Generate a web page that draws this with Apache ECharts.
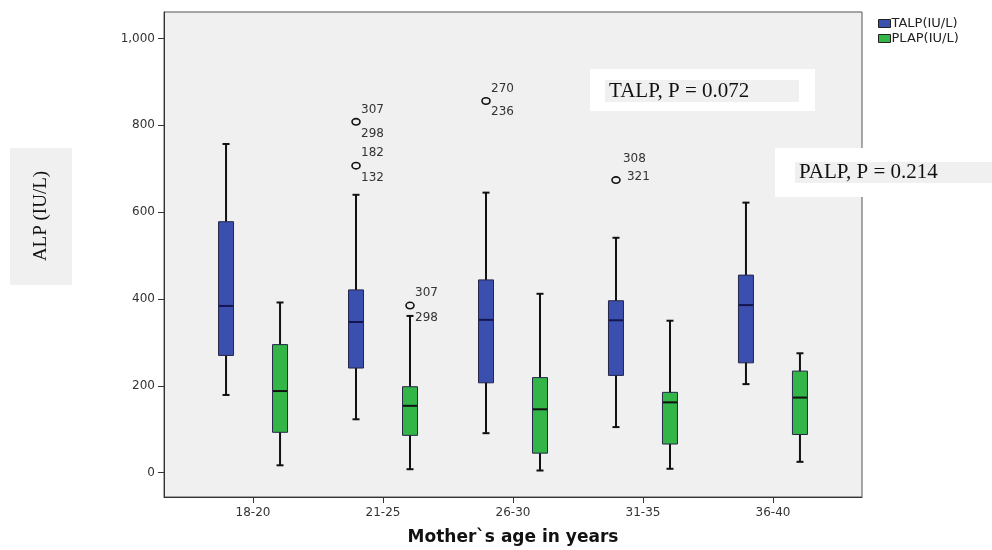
<!DOCTYPE html>
<html>
<head>
<meta charset="utf-8">
<script src="https://cdn.jsdelivr.net/npm/echarts@6/dist/echarts.min.js"></script>
<style>
html,body{margin:0;padding:0;background:#fff;}
#chart{width:992px;height:550px;}
</style>
</head>
<body>
<div id="chart"></div>
<script>
// ---- data ----
const categories = ['18-20', '21-25', '26-30', '31-35', '36-40'];
const yTicks = [0, 200, 400, 600, 800, 1000];
// [min, Q1, median, Q3, max]
const talpStats = [
  [179, 270, 384, 578, 757],
  [123, 241, 347, 421, 640],
  [91, 207, 352, 444, 645],
  [105, 224, 351, 396, 541],
  [204, 253, 386, 455, 622]
];
const plapStats = [
  [17, 93, 188, 295, 392],
  [8, 86, 154, 198, 361],
  [5, 45, 146, 219, 412],
  [9, 66, 162, 185, 350],
  [25, 88, 173, 234, 275]
];
// outliers: category index, value, case labels
const talpOutCat = [1, 1, 2, 3];
const talpOutVal = [808, 707, 856, 674];
const talpOutLabels = [['307', '298'], ['182', '132'], ['270', '236'], ['308', '321']];
const plapOutCat = [1];
const plapOutVal = [385];
const plapOutLabels = [['307', '298']];

// ---- styles (not data) ----
const TALP_COLOR = '#3b4fae';
const PLAP_COLOR = '#34b547';
const OFFSET = 27;
const LABEL_FONT = '"DejaVu Sans", Arial, sans-serif';
const outLabelLayoutTalp = [
  [[5, -12], [5, 12]], [[5, -13], [5, 12]], [[5, -12], [5, 11]], [[7, -21], [11, -3]]
];
const outLabelLayoutPlap = [[[5, -13], [5, 12]]];

function boxRender(dx, fill, medColor) {
  return function (params, api) {
    const x = api.value(0);
    const lo = api.coord([x, api.value(1)]);
    const q1 = api.coord([x, api.value(2)]);
    const md = api.coord([x, api.value(3)]);
    const q3 = api.coord([x, api.value(4)]);
    const hi = api.coord([x, api.value(5)]);
    const cx = lo[0] + dx, hw = 7.5, cw = 3.5;
    const ln = (x1, y1, x2, y2, c, w) => ({ type: 'line', shape: { x1, y1, x2, y2 }, style: { stroke: c, lineWidth: w } });
    return {
      type: 'group',
      children: [
        ln(cx, hi[1], cx, lo[1], '#111', 2),
        ln(cx - cw, hi[1], cx + cw, hi[1], '#111', 2),
        ln(cx - cw, lo[1], cx + cw, lo[1], '#111', 2),
        { type: 'rect', shape: { x: cx - hw, y: q3[1], width: hw * 2, height: q1[1] - q3[1] },
          style: { fill: fill, stroke: '#26264a', lineWidth: 1 } },
        ln(cx - hw + 0.5, md[1], cx + hw - 0.5, md[1], medColor, 2)
      ]
    };
  };
}
function outRender(dx, labels, layout) {
  return function (params, api) {
    const p = api.coord([api.value(0), api.value(1)]);
    const cx = p[0] + dx, cy = p[1];
    const lab = labels[params.dataIndex];
    const lay = layout[params.dataIndex];
    const txt = (t, o) => ({ type: 'text', x: cx + o[0], y: cy + o[1],
      style: { text: t, fill: '#333', font: '12px ' + LABEL_FONT, textAlign: 'left', textVerticalAlign: 'middle' } });
    return {
      type: 'group',
      children: [
        { type: 'ellipse', shape: { cx: cx, cy: cy, rx: 4, ry: 3.2 }, style: { fill: 'none', stroke: '#111', lineWidth: 1.6 } },
        txt(lab[0], lay[0]),
        txt(lab[1], lay[1])
      ]
    };
  };
}

const talpData = talpStats.map((s, i) => [i + 1].concat(s));
const plapData = plapStats.map((s, i) => [i + 1].concat(s));
const talpOutData = talpOutVal.map((v, i) => [talpOutCat[i] + 1, v]);
const plapOutData = plapOutVal.map((v, i) => [plapOutCat[i] + 1, v]);
const catTicks = categories.map((c, i) => i + 1);

const chart = echarts.init(document.getElementById('chart'));
chart.setOption({
  animation: false,
  backgroundColor: '#fff',
  grid: { left: 164, top: 12, right: 130, bottom: 53, outerBoundsMode: 'none', containLabel: false,
    show: true, backgroundColor: '#f0f0f0', borderColor: '#555', borderWidth: 1 },
  legend: {
    left: 873, top: 12, orient: 'vertical', itemWidth: 12, itemHeight: 8, itemGap: 2,
    textStyle: { fontFamily: LABEL_FONT, fontSize: 13, color: '#222', padding: [0, 0, 0, -4] },
    data: [
      { name: 'TALP(IU/L)', icon: 'rect', itemStyle: { color: TALP_COLOR, borderColor: '#222', borderWidth: 1 } },
      { name: 'PLAP(IU/L)', icon: 'rect', itemStyle: { color: PLAP_COLOR, borderColor: '#222', borderWidth: 1 } }
    ]
  },
  xAxis: {
    type: 'value', min: 0.315, max: 5.685,
    splitLine: { show: false },
    axisLine: { show: true, onZero: false, lineStyle: { color: '#333' } },
    axisTick: { show: true, length: 6, lineStyle: { color: '#333' }, customValues: catTicks },
    axisLabel: { customValues: catTicks, formatter: v => categories[Math.round(v) - 1], fontFamily: LABEL_FONT, fontSize: 12, color: '#333', margin: 10 },
    name: 'Mother`s age in years', nameLocation: 'middle', nameGap: 32,
    nameTextStyle: { fontFamily: LABEL_FONT, fontWeight: 'bold', fontSize: 17, color: '#111' }
  },
  yAxis: {
    type: 'value', min: -56, max: 1061,
    splitLine: { show: false },
    axisLine: { show: true, onZero: false, lineStyle: { color: '#333' } },
    axisTick: { show: true, length: 6, lineStyle: { color: '#333' }, customValues: yTicks },
    axisLabel: { customValues: yTicks, formatter: v => v.toLocaleString('en-US'), fontFamily: LABEL_FONT, fontSize: 12, color: '#333', margin: 9 }
  },
  series: [
    { name: 'TALP(IU/L)', type: 'custom', itemStyle: { color: TALP_COLOR }, renderItem: boxRender(-OFFSET, TALP_COLOR, '#151550'),
      encode: { x: 0, y: [1, 2, 3, 4, 5] }, data: talpData },
    { name: 'PLAP(IU/L)', type: 'custom', itemStyle: { color: PLAP_COLOR }, renderItem: boxRender(OFFSET, PLAP_COLOR, '#111'),
      encode: { x: 0, y: [1, 2, 3, 4, 5] }, data: plapData },
    { name: 'TALP(IU/L)', type: 'custom', renderItem: outRender(-OFFSET, talpOutLabels, outLabelLayoutTalp),
      encode: { x: 0, y: 1 }, data: talpOutData },
    { name: 'PLAP(IU/L)', type: 'custom', renderItem: outRender(OFFSET, plapOutLabels, outLabelLayoutPlap),
      encode: { x: 0, y: 1 }, data: plapOutData }
  ],
  graphic: [
    { type: 'rect', left: 10, top: 148, shape: { width: 62, height: 137 }, style: { fill: '#f0f0f0' } },
    { type: 'text', x: 41, y: 216, rotation: Math.PI / 2,
      style: { text: 'ALP (IU/L)', font: '19px "Liberation Serif"', fill: '#111', textAlign: 'center', textVerticalAlign: 'middle' } },
    { type: 'rect', left: 590, top: 69, shape: { width: 225, height: 42 }, style: { fill: '#fff' } },
    { type: 'rect', left: 605, top: 80, shape: { width: 194, height: 22 }, style: { fill: '#f0f0f0' } },
    { type: 'text', x: 609, y: 91,
      style: { text: 'TALP, P = 0.072', font: '21px "Liberation Serif"', fill: '#111', textAlign: 'left', textVerticalAlign: 'middle' } },
    { type: 'rect', left: 775, top: 148, shape: { width: 217, height: 49 }, style: { fill: '#fff' } },
    { type: 'rect', left: 795, top: 162, shape: { width: 197, height: 21 }, style: { fill: '#f0f0f0' } },
    { type: 'text', x: 799, y: 172,
      style: { text: 'PALP, P = 0.214', font: '21px "Liberation Serif"', fill: '#111', textAlign: 'left', textVerticalAlign: 'middle' } }
  ]
});
</script>
</body>
</html>
